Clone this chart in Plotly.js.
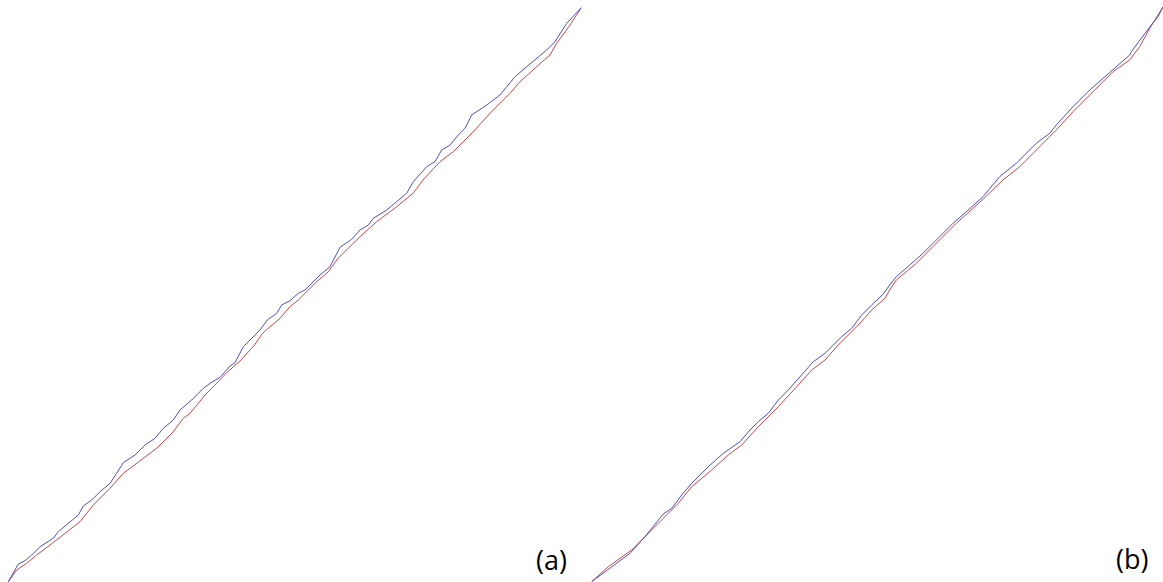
<!DOCTYPE html>
<html>
<head>
<meta charset="utf-8">
<script src="https://cdn.plot.ly/plotly-3.0.1.min.js"></script>
<style>html,body{margin:0;padding:0;background:#fff;}#chart{width:1163px;height:582px;}</style>
</head>
<body>
<div id="chart"></div>
<script>
// Panel (a)
const aBlueX = [8.3,18.3,25,31.7,40,53.3,58.3,78.3,83.3,91.7,100,110,116.7,123.3,135,145,155,163.3,173.3,180,191.7,203.3,210,220,230,235,243.3,250,260,267.3,276.7,281.7,290,298.3,305,320,330,340,351.7,360,368.3,373.3,386.7,406.7,413.3,426.7,435,441.7,450,458.3,465,471.7,486.7,500,515,526.7,546.7,555,566.7,581.5];
const aBlueY = [581.7,564,560.7,555,546.7,538.3,531.7,515,506,500,491.7,483.3,473.3,462.7,455,445,438.3,428.3,420,410,400,388.3,383.3,377.3,366,362.7,346.7,340,330,320,313.3,305,300.7,293.3,290,275,266.7,247.3,239.3,230,225,218.3,210,193.3,181.7,166.7,161.7,150,145,135,128.3,115,105,95,76.7,66.7,50,41.7,23.3,7.5];
const aRedX = [8.3,16.7,26.7,36.7,50,66.7,80,93.3,110,123.3,143.3,156.7,173.3,183.3,190,205,216.7,226,241,254.5,262.5,270,280,290,298.3,316.7,328,338,360,376.7,396.7,413,424.5,440,453.3,473.3,490,510,520,536.7,550,556.7,570,581.5];
const aRedY = [581.7,570,563.3,555,545,531.7,521.7,505,488.3,473.3,458.3,448.3,431.7,418.3,413.3,395,383.3,373.3,360,345,333.3,326.7,318.3,306.7,300,281.7,272,258.3,236.7,221.7,206.7,193.3,178.3,161.7,151.7,131.7,113.3,93.3,81.7,66.7,55,43.3,25,7.5];

// Panel (b)
const bBlueX = [591.7,611.7,630,645,663.3,671.7,681.7,691.7,708.3,723.3,740,750,758.3,768.3,778.3,788.3,798.3,813.3,825,841.7,851.7,861.7,871.7,883.3,889.7,896.3,909.7,923,939.7,953,966.3,983,999.7,1016.3,1036.3,1049.7,1056.3,1073,1089.7,1103,1116.3,1129.7,1131.3,1139.7,1151.3,1158,1163];
const bBlueY = [581.7,566.7,553.3,536.7,514,508.3,495,483.3,466.7,453.3,441.7,430,421.7,413.3,400,390,378.3,361.7,353.3,336.7,328.3,315,305,294,285,276.7,265,253.3,236.7,223.3,211.7,196.7,176.7,163.3,143.3,133.3,125,106.7,90,78.3,66.7,55,51.7,40,25,16.7,7];
const bRedX = [591.7,608.3,631.7,645,661.7,678.3,691.7,711.7,728.3,741.7,758.3,778.3,798.3,811.7,825,838.3,858.3,871.7,885,889.7,896.3,916.3,936.3,956.3,983,1003,1019.7,1036.3,1056.3,1073,1093,1113,1129.7,1139.7,1149.7,1156.3,1163];
const bRedY = [581.7,566.7,550,536.7,520,503.3,486.7,470,455,445,426.7,406.7,385,370,360,345,325,310,298.3,290,280,263.3,243.3,223.3,199.3,180,166.7,150,130,111.7,91.7,71.7,60,46.7,28.3,18.3,7];

const panelLabels = ['(a)', '(b)'];

const blue = '#4f4fc4';
const red = '#c44848';

const traces = [
  {x: aRedX, y: aRedY, xaxis: 'x', yaxis: 'y', mode: 'lines', line: {color: red, width: 1}},
  {x: aBlueX, y: aBlueY, xaxis: 'x', yaxis: 'y', mode: 'lines', line: {color: blue, width: 1}},
  {x: bRedX, y: bRedY, xaxis: 'x2', yaxis: 'y2', mode: 'lines', line: {color: red, width: 1}},
  {x: bBlueX, y: bBlueY, xaxis: 'x2', yaxis: 'y2', mode: 'lines', line: {color: blue, width: 1}}
];

const hidden = {showgrid: false, zeroline: false, showticklabels: false, ticks: '', showline: false, fixedrange: true};

const layout = {
  width: 1163, height: 582,
  margin: {l: 0, r: 0, t: 0, b: 0, pad: 0},
  paper_bgcolor: '#ffffff', plot_bgcolor: '#ffffff',
  showlegend: false,
  xaxis: Object.assign({domain: [0, 0.5], range: [0, 581.5]}, hidden),
  yaxis: Object.assign({domain: [0, 1], range: [582, 0]}, hidden),
  xaxis2: Object.assign({domain: [0.5, 1], range: [581.5, 1163]}, hidden),
  yaxis2: Object.assign({domain: [0, 1], range: [582, 0], anchor: 'x2'}, hidden),
  annotations: [
    {text: panelLabels[0], xref: 'paper', yref: 'paper', x: 0.4742, y: 0.038, xanchor: 'center', yanchor: 'middle', showarrow: false, font: {family: 'Open Sans, sans-serif', size: 27, color: '#000'}},
    {text: panelLabels[1], xref: 'paper', yref: 'paper', x: 0.9733, y: 0.041, xanchor: 'center', yanchor: 'middle', showarrow: false, font: {family: 'Open Sans, sans-serif', size: 27, color: '#000'}}
  ]
};

Plotly.newPlot('chart', traces, layout, {displayModeBar: false, staticPlot: true});
</script>
</body>
</html>
